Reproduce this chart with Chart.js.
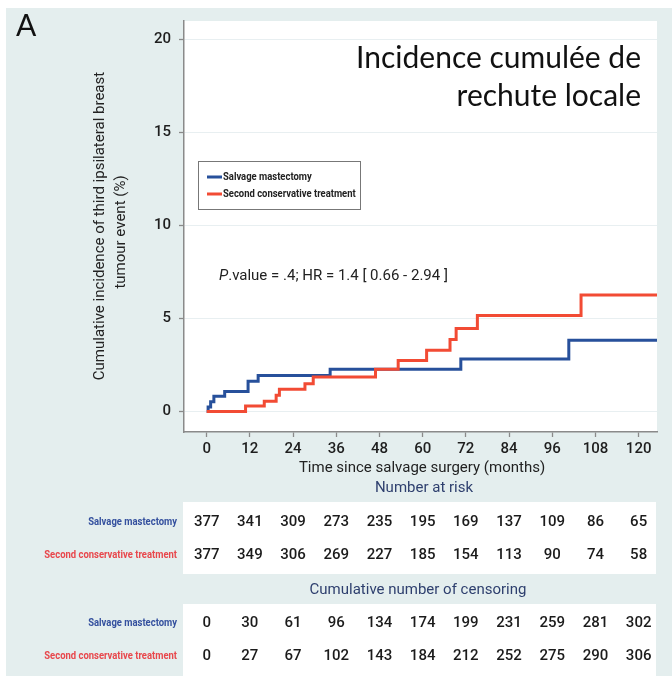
<!DOCTYPE html>
<html>
<head>
<meta charset="utf-8">
<script src="https://cdn.jsdelivr.net/npm/chart.js@4.4.1/dist/chart.umd.min.js"></script>
<style>
  html, body { margin: 0; padding: 0; background: #fff; }
  #wrap { width: 672px; height: 676px; }
</style>
</head>
<body>
<div id="wrap"><canvas id="canvas" width="672" height="676"></canvas></div>
<script>
// axes
const xTicks = [0, 12, 24, 36, 48, 60, 72, 84, 96, 108, 120];
const yTicks = [0, 5, 10, 15, 20];

// curves (months, cumulative incidence %)
const seriesNames = ['Salvage mastectomy', 'Second conservative treatment'];
const mastectomyMonths = [0, 0.4, 1.1, 2, 5, 11.5, 14.3, 34.3, 70.6, 100.6, 125.1];
const mastectomyIncidence = [0, 0.25, 0.52, 0.82, 1.08, 1.63, 1.94, 2.27, 2.82, 3.84, 3.84];
const conservativeMonths = [0, 10.8, 16, 19.3, 20.2, 27.3, 29.6, 46.9, 53.2, 61.1, 67.6, 69.3, 75.2, 104, 125.1];
const conservativeIncidence = [0, 0.3, 0.55, 0.87, 1.2, 1.5, 1.86, 2.27, 2.75, 3.29, 3.88, 4.46, 5.16, 6.27, 6.27];

// tables under the plot
const atRiskMastectomy = [377, 341, 309, 273, 235, 195, 169, 137, 109, 86, 65];
const atRiskConservative = [377, 349, 306, 269, 227, 185, 154, 113, 90, 74, 58];
const censoredMastectomy = [0, 30, 61, 96, 134, 174, 199, 231, 259, 281, 302];
const censoredConservative = [0, 27, 67, 102, 143, 184, 212, 252, 275, 290, 306];

const blue = '#27509b';
const red = '#f24b34';
const panelColor = '#e4eeee';

function squeezedText(c, text, x, y, align, sx) {
  c.save();
  c.translate(x, y);
  c.scale(sx, 1);
  c.textAlign = align;
  c.fillText(text, 0, 0);
  c.restore();
}

// fond, titres, légende et tableaux
const decorPlugin = {
  id: 'decor',
  beforeDraw(chart) {
    const c = chart.ctx;
    const a = chart.chartArea;
    c.save();
    c.fillStyle = '#fff';
    c.fillRect(0, 0, chart.width, chart.height);
    c.fillStyle = panelColor;
    c.fillRect(6, 8, chart.width - 6, chart.height - 8);
    c.fillStyle = '#fff';
    c.fillRect(a.left, a.top, a.right - a.left, a.bottom - a.top);
    c.fillRect(a.left - 1, 502, a.right - a.left, 72);
    c.fillRect(a.left - 1, 604, a.right - a.left, 72);
    c.restore();
  },
  afterDraw(chart) {
    const c = chart.ctx;
    const xs = chart.scales.x;
    c.save();

    // panel letter
    c.fillStyle = '#111';
    c.font = '30px Lato';
    c.textAlign = 'left';
    c.textBaseline = 'alphabetic';
    c.fillText('A', 16, 36);

    // titre
    c.font = '30px Lato';
    c.textAlign = 'right';
    c.fillText('Incidence cumulée de', 641, 68);
    c.fillText('rechute locale', 641, 106);

    // y axis title
    c.textBaseline = 'middle';
    c.fillStyle = '#222';
    c.font = '15px Roboto';
    c.save();
    c.translate(100, 226);
    c.rotate(-Math.PI / 2);
    c.textAlign = 'center';
    c.fillText('Cumulative incidence of third ipsilateral breast', 0, 0);
    c.fillText('tumour event (%)', -6, 21);
    c.restore();

    // x axis title + table titles
    c.textAlign = 'center';
    c.font = '15px Roboto';
    c.fillText('Time since salvage surgery (months)', 422, 468);
    c.fillStyle = '#2e3f6e';
    c.fillText('Number at risk', 424, 488);
    c.fillText('Cumulative number of censoring', 418, 590);

    // legend
    c.fillStyle = '#fff';
    c.fillRect(198, 161, 162, 48);
    c.strokeStyle = '#777';
    c.lineWidth = 1;
    c.strokeRect(198.5, 161.5, 162, 48);
    const legendRows = [[seriesNames[0], blue, 177], [seriesNames[1], red, 194]];
    legendRows.forEach(([name, col, y]) => {
      c.strokeStyle = col;
      c.lineWidth = 3;
      c.beginPath();
      c.moveTo(207, y);
      c.lineTo(222, y);
      c.stroke();
      c.fillStyle = '#222';
      c.font = 'bold 11px Roboto';
      squeezedText(c, name, 223, y, 'left', 0.86);
    });

    // p value
    c.fillStyle = '#222';
    c.textAlign = 'left';
    c.font = 'italic 15px Roboto';
    c.fillText('P', 219, 276);
    const pw = c.measureText('P').width;
    c.font = '15px Roboto';
    c.fillText('.value = .4; HR = 1.4 [ 0.66 - 2.94 ]', 219 + pw, 276);

    // tables
    const rows = [
      [seriesNames[0], blue, atRiskMastectomy, 522],
      [seriesNames[1], red, atRiskConservative, 555],
      [seriesNames[0], blue, censoredMastectomy, 623],
      [seriesNames[1], red, censoredConservative, 656]
    ];
    rows.forEach(([name, col, vals, y]) => {
      c.fillStyle = col === blue ? '#34509e' : '#e8474c';
      c.font = 'bold 11px Roboto';
      squeezedText(c, name, 177, y, 'right', 0.86);
      c.fillStyle = '#1b1b1b';
      c.font = '500 15px Roboto';
      c.textAlign = 'center';
      vals.forEach((v, i) => {
        c.fillText(String(v), xs.getPixelForValue(xTicks[i]), y);
      });
    });
    c.restore();
  }
};

const grafico = document.getElementById('canvas');

new Chart(grafico, {
  type: 'line',
  data: {
    datasets: [
      {
        label: seriesNames[0],
        data: mastectomyMonths.map((t, i) => ({ x: t, y: mastectomyIncidence[i] })),
        borderColor: blue,
        borderWidth: 3,
        stepped: true,
        pointRadius: 0,
        fill: false,
        order: 1
      },
      {
        label: seriesNames[1],
        data: conservativeMonths.map((t, i) => ({ x: t, y: conservativeIncidence[i] })),
        borderColor: red,
        borderWidth: 3,
        stepped: true,
        pointRadius: 0,
        fill: false,
        order: 0
      }
    ]
  },
  options: {
    responsive: false,
    animation: false,
    events: [],
    layout: { padding: { top: 21, right: 15, bottom: 214, left: 0 } },
    plugins: { legend: { display: false }, tooltip: { enabled: false } },
    scales: {
      x: {
        type: 'linear',
        min: -6.3,
        max: 125.1,
        afterBuildTicks: (s) => { s.ticks = xTicks.map((v) => ({ value: v })); },
        afterFit: (s) => { s.height = 30; },
        grid: { drawOnChartArea: false, tickLength: 5, tickColor: '#8a8a8a', tickWidth: 1.3 },
        border: { color: '#8a8a8a', width: 1.5 },
        ticks: { font: { family: 'Roboto', size: 15, weight: '500' }, color: '#1e1e1e', padding: 3, maxRotation: 0, autoSkip: false }
      },
      y: {
        min: -1.1,
        max: 21,
        afterBuildTicks: (s) => { s.ticks = yTicks.map((v) => ({ value: v })); },
        afterFit: (s) => { s.width = 184; },
        grid: { color: '#e8eff1', tickLength: 5, tickColor: '#8a8a8a', tickWidth: 1.3 },
        border: { color: '#8a8a8a', width: 1.5 },
        ticks: { font: { family: 'Roboto', size: 15, weight: '500' }, color: '#1e1e1e', padding: 8 }
      }
    }
  },
  plugins: [decorPlugin]
});
</script>
</body>
</html>
